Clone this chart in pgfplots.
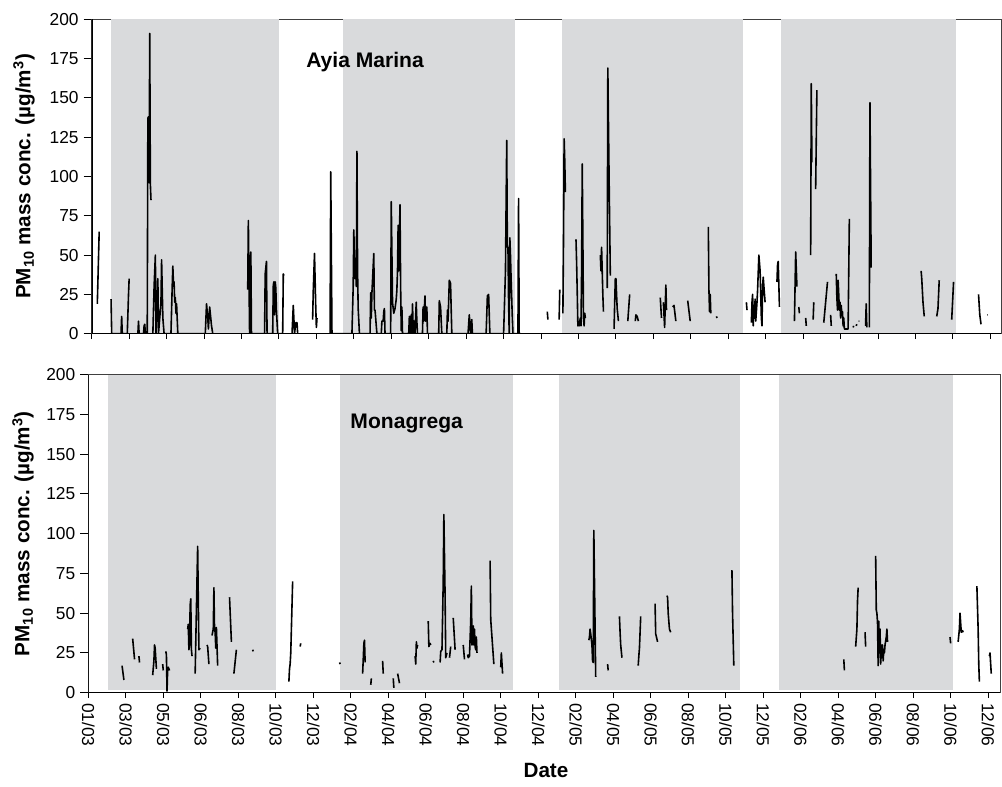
\documentclass[border=0pt]{standalone}
\usepackage{fontspec}
\setmainfont{Liberation Sans}
\usepackage{pgfplots}
\usepackage{pgfplotstable}
\pgfplotsset{compat=1.18}
\definecolor{shade}{RGB}{217,218,220}

\pgfplotstableread{
x y
9 19
12 65
13 nan
31 22
32 0
47 0
48 11
49 0
57 0
59 25
60 35
61 nan
74 0
75 8
76 0
83 0
84 5
85 6
86 0
89 0
90 137
91 138
92 96
93 191
94 95
95 85
96 nan
98 0
100 30
102 50
103 0
105 20
106 35
107 0
109 10
111 20
112 47
114 10
116 0
127 0
129 30
130 43
131 32
132 33
133 20
134 23
135 13
136 19
138 0
182 0
184 19
186 10
187 3
189 17
190 13
192 5
194 0
195 nan
250 28
251 72
253 0
255 52
256 0
277 0
278 38
280 46
281 0
290 0
291 31
292 33
293 12
294 33
295 29
296 15
298 0
306 0
307 38
308 37
309 nan
321 0
323 18
325 0
327 7
329 7
330 0
331 nan
354 9
355 27
357 51
359 17
360 4
361 10
362 nan
382 0
383 103
385 0
417 0
419 30
420 66
421 45
422 35
423 48
424 30
425 116
426 40
427 16
429 0
446 0
447 26
448 10
449 26
452 51
453 15
454 15
456 5
457 0
464 0
465 8
467 8
468 14
469 16
470 0
479 0
480 84
482 20
484 13
486 16
488 22
489 28
490 40
491 69
492 40
494 82
495 30
496 2
497 17
498 0
508 0
509 11
510 0
512 12
513 0
514 19
515 5
516 0
517 8
518 0
520 20
521 8
522 0
530 0
531 17
532 8
534 24
535 8
537 17
538 0
556 0
557 21
559 17
561 0
569 0
570 15
571 8
573 34
575 32
577 0
603 0
605 12
607 0
609 9
610 0
632 0
634 24
636 25
638 0
660 0
663 40
665 123
666 55
667 55
668 20
669 0
670 61
671 50
672 35
674 10
675 0
683 0
684 86
685 0
686 nan
730 14
731 9
732 nan
749 9
750 28
751 nan
755 13
756 60
757 124
758 110
759 90
760 nan
776 60
777 45
778 26
779 5
780 6
781 5
782 8
783 10
784 5
785 40
786 108
787 60
788 10
789 5
790 13
791 10
792 nan
815 50
816 40
817 55
819 25
820 14
821 nan
826 29
827 169
829 100
831 37
832 nan
837 3
838 20
839 35
840 35
841 25
842 16
844 8
845 nan
859 8
862 25
863 nan
871 8
872 12
874 11
876 8
877 nan
911 23
913 10
914 nan
916 20
918 4
920 31
921 15
922 nan
931 17
933 18
936 8
937 nan
955 21
959 8
960 nan
988 68
989 28
990 14
991 25
992 13
993 nan
1001 11
1002 10
1003 nan
1049 20
1050 15
1051 nan
1057 7
1058 20
1059 25
1060 5
1061 18
1062 10
1063 22
1064 8
1066 20
1067 28
1069 50
1070 45
1071 40
1073 10
1074 5
1075 30
1076 36
1078 25
1079 20
1080 nan
1098 33
1099 44
1100 46
1102 17
1103 nan
1126 8
1127 30
1128 52
1130 30
1131 nan
1133 17
1134 13
1135 nan
1144 10
1145 5
1146 nan
1152 50
1153 159
1154 109
1155 nan
1156 9
1157 20
1158 nan
1160 92
1162 155
1163 nan
1173 7
1176 20
1179 33
1180 nan
1184 12
1185 5
1186 nan
1193 38
1194 23
1195 15
1196 34
1197 25
1198 15
1199 20
1200 10
1201 18
1202 12
1203 14
1204 5
1205 10
1206 3
1212 3
1214 73
1215 nan
1220 4
1221 5
1222 nan
1225 5
1226 6
1227 nan
1229 8
1230 8
1231 nan
1240 5
1241 19
1242 4
1243 nan
1246 4
1247 147
1249 42
1250 nan
1329 40
1330 35
1332 20
1334 11
1335 nan
1354 11
1356 16
1358 34
1359 nan
1378 9
1381 33
1382 nan
1421 25
1423 12
1425 6
1426 nan
1435 12
1436 12
}\topdata

\pgfplotstableread{
x y
54 17
57 8
58 nan
71 34
74 21
75 nan
81 23
82 19
83 nan
103 11
105 20
106 30
107 28
109 15
110 nan
119 18
120 14
121 nan
124 26
125 24
126 1
127 15
128 16
130 14
131 nan
159 40
160 43
161 27
162 30
163 55
164 59
165 27
166 23
167 nan
171 12
175 92
177 27
179 28
180 nan
190 30
191 29
193 18
194 nan
198 36
200 40
201 66
202 40
203 38
204 28
205 41
207 17
208 nan
226 60
229 32
230 nan
233 12
237 27
238 nan
263 27
264 26
265 nan
321 7
322 15
323 18
324 25
327 70
328 nan
339 29
340 31
341 nan
402 19
403 18
404 nan
439 12
440 21
441 31
442 33
443 19
444 nan
452 5
453 9
454 nan
471 20
472 12
473 nan
488 9
489 3
490 nan
495 12
498 6
499 nan
523 23
524 18
525 32
526 28
527 30
528 nan
544 45
545 29
547 31
548 30
549 nan
552 20
553 19
554 nan
563 19
564 26
566 27
568 70
569 112
571 60
572 22
574 25
575 nan
578 22
580 29
581 nan
584 47
587 27
588 nan
600 30
602 21
603 nan
607 24
608 22
610 23
612 45
613 67
614 30
615 35
616 42
617 30
618 40
619 29
620 27
621 35
622 25
623 nan
643 83
644 46
649 18
650 nan
660 16
661 25
663 12
664 nan
801 33
802 35
803 40
804 37
806 30
807 20
808 19
809 102
812 10
813 nan
831 18
832 14
833 nan
850 48
851 38
852 30
854 22
855 nan
880 17
881 23
882 28
884 48
885 nan
907 56
908 37
911 32
912 nan
926 61
927 60
928 50
929 45
930 40
932 38
933 nan
1030 77
1031 50
1033 17
1034 nan
1209 21
1210 14
1211 nan
1228 29
1230 40
1231 58
1232 66
1233 nan
1243 38
1244 29
1245 nan
1260 86
1261 52
1262 50
1263 44
1264 17
1265 45
1266 25
1267 40
1268 18
1269 30
1270 22
1271 30
1272 20
1273 27
1274 25
1275 30
1277 35
1278 40
1279 32
1280 nan
1379 35
1380 31
1381 nan
1392 32
1394 40
1395 50
1397 38
1399 39
1400 38
1401 nan
1422 67
1424 40
1425 18
1426 7
1427 nan
1442 23
1443 25
1445 12
}\botdata

\pgfplotsset{
  panel/.style={
    scale only axis,
    xmin=0, ymin=0, ymax=200,
    xtick={0,60,...,1440},
    ytick={0,25,...,200},
    tick align=outside,
    xtick pos=bottom, ytick pos=left,
    axis line style={draw=black!75, line width=0.6pt},
    tick style={black, line width=0.8pt},
    xtick style={/pgfplots/major tick length=4pt},
    ytick style={/pgfplots/major tick length=6pt},
    unbounded coords=jump,
    tick label style={font=\fontsize{13}{15}\selectfont},
    yticklabel style={xshift=-2pt},
    /pgf/number format/assume math mode=true,
    ylabel={\textbf{PM\textsubscript{10} mass conc. (µg/m\textsuperscript{3})}},
    ylabel style={font=\fontsize{15.5}{18}\selectfont, anchor=center},
    clip=true,
  },
  dataline/.style={black, line width=1.2pt, line join=round},
}

\begin{document}
\begin{tikzpicture}
\path[use as bounding box] (0,0) rectangle (751.5pt,-589.5pt);

% top panel
\begin{axis}[panel,
  at={(68.775pt,-14.475pt)}, anchor=north west,
  width=681.975pt, height=235.8pt,
  xmax=1457,
  xticklabels={},
  ylabel style={at={(axis description cs:-0.0745,0.5)}},
]
\addplot[draw=none, fill=shade] coordinates {(31,0) (31,200) (300,200) (300,0)} -- cycle;
\addplot[draw=none, fill=shade] coordinates {(403,0) (403,200) (679,200) (679,0)} -- cycle;
\addplot[draw=none, fill=shade] coordinates {(753,0) (753,200) (1043,200) (1043,0)} -- cycle;
\addplot[draw=none, fill=shade] coordinates {(1105,0) (1105,200) (1385,200) (1385,0)} -- cycle;
\addplot[dataline] table[x=x,y=y] {\topdata};
\node[font=\bfseries\fontsize{15.8}{18}\selectfont] at (axis cs:438,173) {Ayia Marina};
\draw[black, line width=1.4pt] (rel axis cs:0,1) -- (rel axis cs:0,0) -- (rel axis cs:1,0);
\end{axis}

% bottom panel
\begin{axis}[panel,
  at={(66.225pt,-280.875pt)}, anchor=north west,
  width=683.775pt, height=238.65pt,
  xmax=1459,
  xticklabels={01/03,03/03,05/03,06/03,08/03,10/03,12/03,02/04,04/04,06/04,08/04,10/04,12/04,02/05,04/05,06/05,08/05,10/05,12/05,02/06,04/06,06/06,08/06,10/06,12/06},
  xticklabel style={rotate=-90, anchor=west},
  ylabel style={at={(axis description cs:-0.0716,0.5)}},
  xlabel={\textbf{Date}},
  xlabel style={font=\fontsize{15.5}{18}\selectfont, at={(axis description cs:0.502,-0.246)}, anchor=center},
]
\addplot[draw=none, fill=shade] coordinates {(31,1.5) (31,200) (300,200) (300,1.5)} -- cycle;
\addplot[draw=none, fill=shade] coordinates {(403,1.5) (403,200) (679,200) (679,1.5)} -- cycle;
\addplot[draw=none, fill=shade] coordinates {(753,1.5) (753,200) (1043,200) (1043,1.5)} -- cycle;
\addplot[draw=none, fill=shade] coordinates {(1105,1.5) (1105,200) (1383,200) (1383,1.5)} -- cycle;
\addplot[dataline] table[x=x,y=y] {\botdata};
\node[font=\bfseries\fontsize{15.8}{18}\selectfont] at (axis cs:509.5,169.5) {Monagrega};
\draw[black, line width=1.4pt] (rel axis cs:0,1) -- (rel axis cs:0,0) -- (rel axis cs:1,0);
\end{axis}
\end{tikzpicture}
\end{document}
